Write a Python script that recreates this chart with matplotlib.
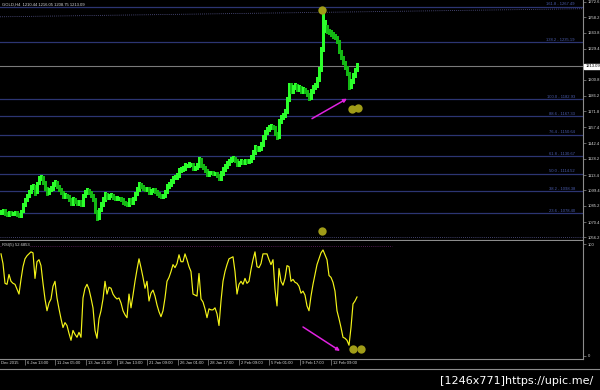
import numpy as np
import matplotlib
matplotlib.use('Agg')
import matplotlib.pyplot as plt
from matplotlib.lines import Line2D
import matplotlib.transforms as mtransforms

plt.rcParams['font.family'] = ['Liberation Sans', 'DejaVu Sans']

# ---- data (H4 bars) ----
closes = [1079.2, 1081.0, 1078.2, 1077.3, 1079.2, 1078.2, 1078.2, 1079.2, 1077.3, 1076.4,
          1080.1, 1085.6, 1091.1, 1094.8, 1098.4, 1102.1, 1103.0, 1097.5, 1105.8, 1110.4,
          1111.3, 1106.7, 1101.2, 1097.5, 1100.3, 1101.2, 1104.9, 1106.7, 1103.0, 1100.3,
          1097.5, 1093.9, 1094.8, 1093.9, 1091.1, 1087.4, 1091.1, 1089.3, 1087.4, 1089.3,
          1086.5, 1094.8, 1097.5, 1099.4, 1097.5, 1094.8, 1091.1, 1080.1, 1074.6, 1081.9,
          1086.5, 1091.1, 1095.7, 1092.9, 1094.8, 1094.8, 1092.9, 1092.0, 1092.0, 1092.0,
          1091.1, 1088.3, 1087.4, 1086.5, 1091.1, 1088.3, 1092.0, 1096.6, 1100.3, 1104.9,
          1103.0, 1101.2, 1100.3, 1101.2, 1097.5, 1099.4, 1100.3, 1098.4, 1096.6, 1094.8,
          1093.9, 1094.8, 1098.4, 1103.0, 1104.9, 1107.6, 1111.3, 1111.3, 1113.1, 1117.7,
          1118.6, 1119.6, 1122.3, 1122.3, 1123.2, 1123.2, 1119.6, 1120.5, 1122.3, 1127.8,
          1122.3, 1120.5, 1117.7, 1114.0, 1115.9, 1115.9, 1115.0, 1115.0, 1113.1, 1110.4,
          1115.0, 1118.6, 1121.4, 1124.1, 1126.9, 1127.8, 1128.7, 1126.9, 1123.2, 1125.1,
          1126.0, 1125.1, 1126.9, 1126.0, 1126.9, 1129.7, 1134.2, 1138.8, 1137.0, 1137.9,
          1141.6, 1148.0, 1152.6, 1155.4, 1157.2, 1158.1, 1157.2, 1151.7, 1148.9, 1162.7,
          1166.4, 1168.2, 1171.9, 1182.9, 1195.8, 1190.2, 1193.9, 1195.8, 1192.1, 1193.9,
          1190.2, 1192.1, 1190.2, 1187.5, 1184.7, 1190.2, 1193.9, 1195.8, 1201.3, 1210.4,
          1228.8, 1247.2, 1249.0, 1245.3, 1244.4, 1242.6, 1240.7, 1239.8, 1236.1, 1227.0,
          1221.5, 1216.9, 1212.3, 1206.8, 1195.8, 1199.4, 1204.9, 1209.5, 1213.09]

highs = [1081.8, 1082.6, 1082.4, 1079.6, 1080.9, 1080.6, 1079.9, 1080.8, 1080.5, 1078.8,
         1081.7, 1087.4, 1092.8, 1096.5, 1100.2, 1104.0, 1105.2, 1104.1, 1107.3, 1112.6,
         1113.5, 1112.4, 1108.0, 1102.6, 1101.9, 1103.0, 1106.8, 1108.6, 1107.9, 1104.2,
         1101.5, 1098.9, 1096.6, 1096.2, 1095.3, 1092.5, 1092.9, 1092.6, 1090.8, 1091.0,
         1090.6, 1096.4, 1099.3, 1101.2, 1100.9, 1098.9, 1096.2, 1092.4, 1081.5, 1083.6,
         1088.3, 1092.9, 1097.6, 1097.2, 1096.5, 1096.6, 1096.2, 1094.6, 1093.8, 1093.7,
         1093.5, 1092.6, 1089.9, 1089.0, 1092.8, 1092.4, 1093.7, 1098.3, 1102.1, 1106.7,
         1106.4, 1104.6, 1102.9, 1102.8, 1102.6, 1101.0, 1102.0, 1101.8, 1099.9, 1098.0,
         1096.4, 1096.5, 1100.1, 1104.8, 1106.7, 1109.4, 1113.0, 1113.1, 1114.9, 1119.5,
         1120.4, 1121.4, 1124.1, 1124.0, 1125.0, 1124.9, 1124.6, 1122.2, 1124.1, 1129.7,
         1129.0, 1123.8, 1122.0, 1119.2, 1117.6, 1117.6, 1117.4, 1116.7, 1116.5, 1114.6,
         1116.8, 1120.4, 1123.2, 1125.9, 1128.6, 1129.6, 1130.5, 1130.2, 1128.3, 1126.8,
         1127.8, 1127.5, 1128.6, 1128.4, 1128.6, 1131.5, 1136.0, 1140.6, 1140.3, 1139.7,
         1143.4, 1149.8, 1154.4, 1157.2, 1159.0, 1160.0, 1159.7, 1158.6, 1153.2, 1164.6,
         1168.3, 1170.1, 1173.8, 1184.8, 1198.0, 1197.5, 1195.7, 1197.7, 1197.3, 1195.7,
         1195.3, 1193.9, 1193.6, 1191.7, 1189.0, 1192.0, 1195.7, 1197.6, 1203.2, 1212.3,
         1230.9, 1263.5, 1256.0, 1251.2, 1247.3, 1246.1, 1244.4, 1242.5, 1241.4, 1237.5,
         1228.6, 1223.0, 1218.5, 1213.9, 1208.4, 1202.0, 1206.8, 1211.3, 1216.05]

lows = [1077.6, 1078.0, 1076.9, 1075.8, 1076.0, 1076.8, 1076.5, 1077.0, 1075.9, 1074.8,
        1075.3, 1079.5, 1084.7, 1089.9, 1093.6, 1097.2, 1100.4, 1095.6, 1096.8, 1104.9,
        1108.8, 1105.1, 1099.5, 1095.4, 1096.1, 1098.7, 1100.0, 1103.4, 1101.5, 1098.6,
        1095.9, 1092.2, 1092.4, 1092.1, 1089.6, 1085.6, 1086.1, 1087.8, 1085.9, 1085.8,
        1084.7, 1085.4, 1093.2, 1096.0, 1095.8, 1093.1, 1089.4, 1078.3, 1072.1, 1073.5,
        1080.6, 1085.0, 1089.8, 1091.2, 1091.4, 1093.0, 1091.3, 1090.4, 1090.2, 1090.5,
        1089.6, 1086.6, 1085.8, 1084.9, 1085.2, 1086.7, 1087.0, 1090.7, 1095.2, 1099.1,
        1101.5, 1099.6, 1098.8, 1098.9, 1095.9, 1096.1, 1098.0, 1096.9, 1095.0, 1093.2,
        1092.1, 1092.5, 1093.4, 1097.1, 1101.6, 1103.5, 1106.2, 1109.6, 1109.8, 1111.8,
        1116.1, 1117.0, 1118.2, 1120.6, 1120.7, 1121.4, 1117.9, 1118.1, 1119.0, 1121.0,
        1120.6, 1118.8, 1116.0, 1112.3, 1112.5, 1114.2, 1113.4, 1113.3, 1111.5, 1108.6,
        1109.2, 1113.7, 1117.2, 1120.0, 1122.8, 1125.3, 1126.2, 1125.2, 1121.5, 1121.7,
        1123.6, 1123.4, 1123.7, 1124.3, 1124.4, 1125.4, 1128.3, 1132.9, 1135.3, 1135.5,
        1136.5, 1140.3, 1146.7, 1151.0, 1153.9, 1155.5, 1155.4, 1149.9, 1146.8, 1147.6,
        1161.2, 1164.8, 1166.7, 1170.4, 1181.5, 1188.4, 1188.6, 1192.3, 1190.4, 1190.5,
        1188.4, 1188.7, 1188.5, 1185.6, 1182.5, 1183.3, 1188.8, 1192.3, 1194.2, 1199.9,
        1209.0, 1227.2, 1244.6, 1243.5, 1242.6, 1240.8, 1238.9, 1237.8, 1234.3, 1225.1,
        1219.7, 1215.0, 1210.4, 1204.9, 1192.0, 1193.5, 1198.0, 1203.5, 1208.75]

rsi = [91.2, 82.5, 64.9, 64.0, 72.8, 66.7, 64.9, 64.0, 59.6, 55.3,
       68.4, 79.8, 86.8, 89.5, 91.2, 93.0, 92.1, 69.3, 84.2, 86.0,
       80.7, 64.9, 50.9, 40.4, 47.4, 50.9, 62.3, 66.7, 51.8, 42.1,
       33.3, 25.4, 29.8, 27.2, 20.2, 14.0, 22.8, 19.3, 16.7, 21.1,
       16.7, 51.8, 60.5, 64.0, 59.6, 51.8, 43.0, 22.8, 15.8, 33.3,
       40.4, 50.9, 66.7, 55.3, 61.4, 60.5, 55.3, 52.6, 50.9, 51.8,
       47.4, 40.4, 36.8, 34.2, 55.3, 43.0, 54.4, 66.7, 77.2, 86.8,
       78.9, 70.2, 60.5, 66.7, 49.1, 56.1, 58.8, 53.5, 45.6, 39.5,
       35.1, 40.4, 51.8, 66.7, 70.2, 75.4, 81.6, 78.9, 82.5, 90.4,
       84.2, 84.2, 91.2, 86.0, 79.8, 75.4, 55.3, 54.4, 53.5, 73.7,
       50.9, 48.2, 42.1, 34.2, 42.1, 41.2, 41.2, 43.0, 37.7, 27.2,
       49.1, 66.7, 75.4, 81.6, 86.8, 87.7, 88.6, 75.4, 55.3, 64.0,
       66.7, 64.0, 69.3, 64.9, 66.7, 77.2, 86.0, 93.0, 79.8, 78.9,
       82.5, 91.2, 91.2, 91.2, 86.0, 81.6, 86.0, 59.6, 44.7, 78.1,
       66.7, 63.2, 69.3, 80.7, 79.8, 66.7, 68.4, 65.8, 64.9, 62.3,
       56.1, 57.9, 54.4, 44.7, 40.4, 53.5, 64.0, 72.8, 81.6, 86.8,
       92.1, 94.7, 90.4, 86.0, 71.9, 70.2, 65.8, 57.9, 40.4, 33.3,
       25.4, 16.7, 15.8, 14.0, 9.6, 25.4, 46.5, 49.1, 52.7]

# 1215.0 sits under the current-price box, so it is left out like in the terminal
price_ticks = [1056.2, 1070.4, 1085.2, 1099.4, 1113.4, 1128.2, 1142.4, 1157.4,
               1171.8, 1186.2, 1200.8, 1229.4, 1243.8, 1258.2, 1272.6]

fib_pct = ['161.8', '138.2', '100.0', '88.6', '76.4', '61.8', '50.0', '38.2', '23.6']
fib_prices = [1267.49, 1235.19, 1182.93, 1167.33, 1150.64, 1130.67, 1114.52, 1098.38, 1078.40]

date_pos = [12, 27, 42.5, 58, 73, 88.5, 103.5, 119, 134, 149.5, 165]
date_labels = ['6 Jan 13:00', '11 Jan 05:00', '13 Jan 21:00', '18 Jan 13:00', '21 Jan 09:00',
               '26 Jan 01:00', '28 Jan 17:00', '2 Feb 09:00', '5 Feb 01:00', '9 Feb 17:00',
               '12 Feb 09:00']

# signal dots and arrows
dots_price_x = [160.5, 175.5, 178.5, 160.5]
dots_price_y = [1265.0, 1174.0, 1174.9, 1062.6]
dots_rsi_x = [176, 180]
dots_rsi_y = [6.3, 6.3]
arrow_price = [(155.5, 1165.2), (173, 1183.5)]
arrow_rsi = [(151, 25.9), (169.5, 4.5)]

last_open, last_high, last_low, last_close = 1210.44, 1216.05, 1208.75, 1213.09

# ---- style ----
bg = 'black'
axis_gray = '#8c8c8c'
txt = '#d8d8d8'
fib_col = '#2c3572'
fib_txt = '#4a5cae'
green_up = '#2bff2b'
green_dn = '#14b814'
yellow = '#f4f418'
dot_col = '#a09c18'
magenta = '#e022e0'
fs = 3.0

W, H = 600, 390
def px_box(l, t, r, b):
    return [l / W, 1 - b / H, (r - l) / W, (b - t) / H]

fig = plt.figure(figsize=(6, 3.9), dpi=100, facecolor=bg)
ax1 = fig.add_axes(px_box(0, 0, 583, 240))
ax2 = fig.add_axes(px_box(0, 241, 583, 359))

for ax in (ax1, ax2):
    ax.set_facecolor(bg)
    for s in ('top', 'left'):
        ax.spines[s].set_visible(False)
    for s in ('right', 'bottom'):
        ax.spines[s].set_color(axis_gray)
        ax.spines[s].set_linewidth(0.8)
    ax.set_xlim(-0.5, 291)

# ---- price panel ----
x = np.arange(len(closes))
prev = np.concatenate([[closes[0]], closes[:-1]])
cols = [green_up if c >= p else green_dn for c, p in zip(closes, prev)]
ax1.vlines(x, lows, highs, colors=cols, linewidth=0.75, antialiased=False, zorder=3)

ax1.set_ylim(1053.9, 1274.0)
for p in fib_prices:
    ax1.axhline(p, color=fib_col, lw=0.9, zorder=1)
for lbl, p in zip(fib_pct, fib_prices):
    ax1.text(287, p + 0.6, lbl + ' - ' + '%.2f' % p, color=fib_txt, fontsize=fs,
             ha='right', va='bottom', zorder=2)

ax1.axhline(last_close, color='#7a7a7a', lw=0.8, zorder=1)
ax1.plot([-0.5, 291], [1258.6, 1266.0], color='#5a5a92', lw=0.6, ls=(0, (1, 1.5)), zorder=1)
ax1.axhline(1057.1, color='#5a5a92', lw=0.6, ls=(0, (1, 1.5)), zorder=1)

ax1.plot(dots_price_x, dots_price_y, 'o', ms=6, color=dot_col, mec='none', zorder=4)
ax1.annotate('', xy=arrow_price[1], xytext=arrow_price[0],
             arrowprops=dict(arrowstyle='-|>', color=magenta, lw=1.1, mutation_scale=5,
                             shrinkA=0, shrinkB=0), zorder=4)

ax1.yaxis.tick_right()
ax1.set_yticks(price_ticks, ['%.1f' % t for t in price_ticks])
ax1.tick_params(axis='y', colors=axis_gray, labelcolor=txt, length=2, width=0.5,
                pad=1.2, labelsize=fs)
ax1.set_xticks([])

yb = mtransforms.blended_transform_factory(ax1.transAxes, ax1.transData)
ax1.text(1.004, last_close, '%.2f' % last_close, transform=yb, fontsize=fs, color='black',
         ha='left', va='center', clip_on=False, zorder=6,
         bbox=dict(facecolor='white', edgecolor='white', pad=0.6))

ax1.text(2 / 583, 1 - 5 / 240, 'GOLD,H4  %.2f %.2f %.2f %.2f' %
         (last_open, last_high, last_low, last_close),
         transform=ax1.transAxes, fontsize=fs, color=txt, ha='left', va='center', zorder=6)

# ---- RSI panel ----
ax2.plot(x, rsi, color=yellow, lw=0.85, zorder=3)
ax2.set_ylim(-2.7, 102.7)
ax2.plot([-0.5, 195.5], [98.5, 98.5], color='#6a246a', lw=0.6, ls=(0, (1, 1.5)), zorder=1)
ax2.plot(dots_rsi_x, dots_rsi_y, 'o', ms=6, color=dot_col, mec='none', zorder=4)
ax2.annotate('', xy=arrow_rsi[1], xytext=arrow_rsi[0],
             arrowprops=dict(arrowstyle='-|>', color=magenta, lw=1.1, mutation_scale=5,
                             shrinkA=0, shrinkB=0), zorder=4)
ax2.text(2 / 583, 1 - 4 / 118, 'RSI(5) %.4f' % 52.6853, transform=ax2.transAxes,
         fontsize=fs, color=txt, ha='left', va='center', zorder=6,
         bbox=dict(facecolor=bg, edgecolor='none', pad=0.3))

ax2.yaxis.tick_right()
ax2.set_yticks([0, 100], ['0', '100'])
ax2.tick_params(axis='y', colors=axis_gray, labelcolor=txt, length=2, width=0.5,
                pad=1.2, labelsize=fs)

ax2.set_xticks(date_pos, [''] * len(date_pos))
ax2.tick_params(axis='x', colors=axis_gray, length=4, width=0.5)
xb = mtransforms.blended_transform_factory(ax2.transData, ax2.transAxes)
for p, lbl in zip(date_pos, date_labels):
    ax2.text(p + 0.8, -1.5 / 118, lbl, transform=xb, fontsize=fs, color=txt,
             ha='left', va='top', clip_on=False)
ax2.text(0.2, -1.5 / 118, 'Dec 2015', transform=xb, fontsize=fs, color=txt,
         ha='left', va='top', clip_on=False)

# frame line under the time scale
fig.add_artist(Line2D([0, 1], [1 - 369 / H] * 2, color=axis_gray, lw=0.8))

fig.text(440 / W, 1 - 381 / H, '[1246x771]https://upic.me/', color='white',
         fontsize=8.0, family='DejaVu Sans', ha='left', va='center')

fig.savefig('out.png', dpi=100, facecolor=bg)
